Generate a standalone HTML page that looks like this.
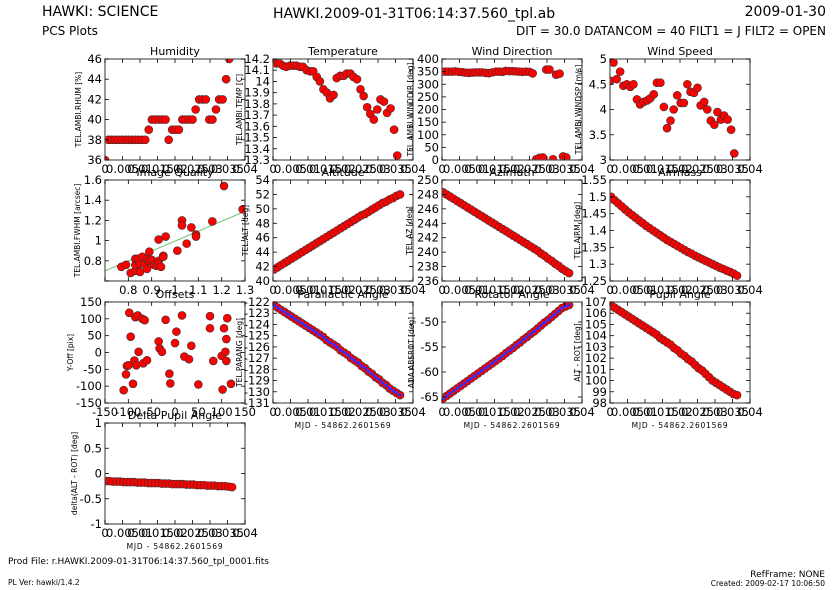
<!DOCTYPE html>
<html><head><meta charset="utf-8">
<style>
body{margin:0;background:#fff;}
svg{display:block;font-family:"DejaVu Sans","Liberation Sans",sans-serif;}
</style></head>
<body>
<svg id="chart" width="835" height="590" viewBox="0 0 835 590" xmlns="http://www.w3.org/2000/svg">
<text x="42" y="16" font-size="14">HAWKI: SCIENCE</text>
<text x="42" y="35" font-size="12">PCS Plots</text>
<text x="273" y="18" font-size="14">HAWKI.2009-01-31T06:14:37.560_tpl.ab</text>
<text x="826" y="16" font-size="14" text-anchor="end">2009-01-30</text>
<text x="826" y="35" font-size="12" text-anchor="end">DIT = 30.0 DATANCOM = 40 FILT1 = J FILT2 = OPEN</text>
<text x="8" y="564" font-size="9">Prod File: r.HAWKI.2009-01-31T06:14:37.560_tpl_0001.fits</text>
<text x="8" y="585" font-size="7.5">PL Ver: hawki/1.4.2</text>
<text x="825" y="577" font-size="9" text-anchor="end">RefFrame: NONE</text>
<text x="825" y="586" font-size="7.5" text-anchor="end">Created: 2009-02-17 10:06:50</text>
<g id="panels"></g>
</svg>
<script>
const tS = [0.0000,0.0010,0.0019,0.0029,0.0038,0.0048,0.0058,0.0067,0.0077,0.0086,0.0096,0.0106,0.0115,0.0125,0.0134,0.0144,0.0154,0.0163,0.0173,0.0182,0.0192,0.0202,0.0211,0.0221,0.0230,0.0240,0.0250,0.0259,0.0269,0.0278,0.0288,0.0298,0.0307,0.0317,0.0326,0.0336,0.0346,0.0355];
const humidity = [36,38,38,38,38,38,38,38,38,38,38,38,38,39,40,40,40,40,40,38,39,39,39,40,40,40,40,41,42,42,42,40,40,41,42,42,44,46];
const temperature = [14.19,14.16,14.16,14.14,14.13,14.14,14.14,14.14,14.13,14.13,14.10,14.09,14.09,14.04,14.00,13.93,13.90,13.85,13.88,14.03,14.05,14.05,14.07,14.07,14.04,14.02,13.93,13.87,13.77,13.71,13.66,13.75,13.84,13.82,13.72,13.76,13.57,13.34];
const windDir = [350,350,350,350,351,349,348,346,345,346,347,347,347,345,344,347,350,350,349,353,352,352,351,350,349,350,349,343,3,8,10,358,358,3,338,342,14,10];
const windSpeed = [4.57,4.93,4.6,4.75,4.47,4.5,4.45,4.5,4.2,4.1,4.15,4.18,4.22,4.3,4.53,4.53,4.05,3.63,3.78,4.0,4.28,4.13,4.13,4.5,4.35,4.33,4.43,4.08,4.15,4.0,3.78,3.7,3.95,3.8,3.88,3.8,3.6,3.13];
const tD = [0.0003,0.0013,0.0023,0.0033,0.0043,0.0053,0.0063,0.0073,0.0083,0.0093,0.0103,0.0113,0.0123,0.0133,0.0143,0.0153,0.0163,0.0173,0.0183,0.0193,0.0203,0.0213,0.0223,0.0233,0.0243,0.0253,0.0263,0.0273,0.0283,0.0293,0.0303,0.0313,0.0323,0.0333,0.0343,0.0353,0.0363];
const altitude = [41.6,41.9,42.2,42.5,42.8,43.1,43.4,43.7,44.0,44.3,44.6,44.9,45.2,45.5,45.8,46.1,46.4,46.7,47.0,47.3,47.6,47.9,48.2,48.5,48.8,49.1,49.3,49.6,49.9,50.2,50.5,50.8,51.0,51.3,51.5,51.8,52.0];
const azimuth = [248.3,248.0,247.7,247.4,247.1,246.8,246.5,246.2,245.9,245.6,245.3,245.0,244.7,244.4,244.1,243.8,243.5,243.2,242.9,242.6,242.3,242.0,241.7,241.4,241.1,240.8,240.5,240.2,239.8,239.5,239.1,238.8,238.4,238.1,237.7,237.4,237.1];
const airmass = [1.500,1.490,1.481,1.472,1.463,1.454,1.446,1.438,1.430,1.422,1.414,1.407,1.400,1.393,1.386,1.379,1.372,1.366,1.360,1.354,1.348,1.342,1.336,1.331,1.325,1.320,1.315,1.310,1.305,1.300,1.295,1.290,1.286,1.281,1.277,1.272,1.266];
const parang = [-122.3,-122.5,-122.7,-122.9,-123.1,-123.3,-123.5,-123.7,-123.9,-124.1,-124.3,-124.5,-124.7,-124.9,-125.1,-125.4,-125.6,-125.8,-126.0,-126.3,-126.5,-126.7,-127.0,-127.2,-127.4,-127.7,-127.9,-128.2,-128.4,-128.7,-128.9,-129.2,-129.4,-129.7,-129.9,-130.1,-130.3];
const rotator = [-65.3,-64.8,-64.3,-63.8,-63.3,-62.8,-62.3,-61.8,-61.3,-60.8,-60.3,-59.8,-59.3,-58.8,-58.3,-57.8,-57.3,-56.8,-56.2,-55.7,-55.2,-54.6,-54.1,-53.5,-53.0,-52.4,-51.9,-51.3,-50.7,-50.1,-49.6,-49.0,-48.4,-47.8,-47.2,-46.9,-46.6];
const pupil = [106.7,106.5,106.3,106.1,105.9,105.7,105.5,105.3,105.1,104.9,104.7,104.5,104.3,104.1,103.8,103.6,103.4,103.2,102.9,102.7,102.4,102.2,101.9,101.7,101.4,101.1,100.9,100.6,100.3,100.0,99.8,99.6,99.4,99.2,99.0,98.8,98.7];
const deltaPupil = [-0.15,-0.15,-0.16,-0.16,-0.16,-0.17,-0.17,-0.17,-0.17,-0.18,-0.18,-0.18,-0.19,-0.19,-0.19,-0.19,-0.20,-0.20,-0.20,-0.21,-0.21,-0.21,-0.21,-0.22,-0.22,-0.22,-0.23,-0.23,-0.23,-0.24,-0.24,-0.24,-0.25,-0.25,-0.25,-0.26,-0.27];
const iqX = [0.77,0.79,0.81,0.83,0.83,0.83,0.84,0.85,0.85,0.86,0.87,0.88,0.88,0.89,0.89,0.90,0.91,0.92,0.93,0.93,0.93,0.94,0.95,0.95,0.96,1.01,1.03,1.03,1.05,1.07,1.09,1.09,1.16,1.21,1.29];
const iqY = [0.74,0.76,0.68,0.70,0.76,0.82,0.82,0.69,0.77,0.84,0.77,0.72,0.82,0.89,0.80,0.81,0.76,0.75,0.80,0.77,1.01,0.74,0.85,0.84,1.04,0.90,1.20,1.15,0.97,1.13,1.06,1.04,1.19,1.54,1.31];
const iqFitX = [0.7,1.3];
const iqFitY = [0.70,1.29];
const offX = [-110,-105,-103,-100,-98,-95,-90,-87,-85,-83,-80,-78,-70,-68,-65,-60,-35,-33,-28,-20,-12,-10,0,3,15,20,30,35,50,75,75,82,100,102,105,108,110,110,112,120];
const offY = [-112,-65,-40,-38,118,47,-93,-24,105,-38,110,2,100,-32,96,-23,33,12,2,97,-63,-92,28,62,110,-12,-20,20,-95,108,72,-25,-10,-110,72,2,40,-25,102,-93];
const timeTicks = [0,0.005,0.01,0.015,0.02,0.025,0.03,0.035,0.04];
const timeTickLabels = ["0","0.005","0.01","0.015","0.02","0.025","0.03","0.035","0.04"];

const NS = "http://www.w3.org/2000/svg";
const root = document.getElementById('panels');
const colX = [105,273,442,610], rowY = [59,180,302,423], W = 140, H = 101;
function mk(tag, attrs, parent){const e=document.createElementNS(NS,tag);for(const k in attrs)e.setAttribute(k,attrs[k]);(parent||root).appendChild(e);return e;}
function rng(a,b,s){const r=[];for(let v=a;v<=b+1e-9;v+=s)r.push(+v.toFixed(6));return r;}
function fmt(v){return String(+v.toFixed(4));}

function panel(o){
  const x0=colX[o.col], y0=rowY[o.row];
  const g=mk('g',{});
  
  
  const sx=v=>x0+(v-o.xr[0])/(o.xr[1]-o.xr[0])*W;
  const sy=v=>y0+H-(v-o.yr[0])/(o.yr[1]-o.yr[0])*H;
  const cid='clip-'+o.name;
  const cp=mk('clipPath',{id:cid},g);mk('rect',{x:x0,y:y0,width:W,height:H},cp);
  const marks=mk('g',{'clip-path':'url(#'+cid+')'},g);
  if(o.fit){const l=mk('line',{x1:sx(o.fit[0][0]),y1:sy(o.fit[1][0]),x2:sx(o.fit[0][1]),y2:sy(o.fit[1][1]),stroke:'#6cbf6c','stroke-width':1},marks);
    
    }
  for(let i=0;i<o.xs.length;i++){
    const c=mk('circle',{cx:sx(o.xs[i]),cy:sy(o.ys[i]),r:4,fill:'#f00',stroke:'#333','stroke-width':0.6},marks);
    
    
  }
  if(o.blue){
    let d='';for(let i=0;i<o.xs.length;i++)d+=(i?'L':'M')+sx(o.xs[i])+' '+sy(o.ys[i]);
    const p=mk('path',{d:d,fill:'none',stroke:'#3030ff','stroke-width':1.5},marks);
    
    
    for(let i=0;i<o.xs.length;i++){
      const q=mk('rect',{x:sx(o.xs[i])-1.5,y:sy(o.ys[i])-1.5,width:3,height:3,fill:'#3030ff'},marks);
      
      
    }
  }
  const fr=mk('rect',{x:x0,y:y0,width:W,height:H,fill:'none',stroke:'#555','stroke-width':1.2},g);
  
  
  o.xt.forEach((v,i)=>{
    const X=sx(v);
    mk('line',{x1:X,y1:y0+H,x2:X,y2:y0+H-4,stroke:'#000','stroke-width':0.8},g);
    mk('line',{x1:X,y1:y0,x2:X,y2:y0+4,stroke:'#000','stroke-width':0.8},g);
    const lab=o.xl?o.xl[i]:fmt(v);
    if(lab!==''){const t=mk('text',{x:X,y:y0+H+13,'font-size':11.5,'text-anchor':'middle'},g);t.textContent=lab;
      
      }
  });
  o.yt.forEach((v,i)=>{
    const Y=sy(v);
    mk('line',{x1:x0,y1:Y,x2:x0+4,y2:Y,stroke:'#000','stroke-width':0.8},g);
    mk('line',{x1:x0+W,y1:Y,x2:x0+W-4,y2:Y,stroke:'#000','stroke-width':0.8},g);
    const lab=o.yl?o.yl[i]:fmt(v);
    if(lab!==''){const t=mk('text',{x:x0-3,y:Y+4,'font-size':11.5,'text-anchor':'end'},g);t.textContent=lab;
      
      }
  });
  const tt=mk('text',{x:x0+W/2,y:y0-4,'font-size':11,'text-anchor':'middle'},g);tt.textContent=o.title;
  
  
  const yy=y0+H/2, yx=x0-o.ylx;
  const yl=mk('text',{x:yx,y:yy,'font-size':7.5,'text-anchor':'middle',transform:'rotate(-90 '+yx+' '+yy+')'},g);yl.textContent=o.ylabel;
  
  
  if(o.xlabel){const xl=mk('text',{x:x0+W/2,y:y0+H+25,'font-size':7.5,'letter-spacing':0.8,'text-anchor':'middle'},g);xl.textContent=o.xlabel;
    
    }
}
const T={xr:[0,0.04],xt:timeTicks,xl:timeTickLabels};
const MJD="MJD - 54862.2601569";
panel(Object.assign({name:'humidity',col:0,row:0,title:'Humidity',ylabel:'TEL.AMBI.RHUM [%]',ylx:24,xs:tS,ys:humidity,yr:[36,46],yt:rng(36,46,2)},T));
panel(Object.assign({name:'temperature',col:1,row:0,title:'Temperature',ylabel:'TEL.AMBI.TEMP [C]',ylx:31,xs:tS,ys:temperature,yr:[13.3,14.2],yt:rng(13.3,14.2,0.1)},T));
panel(Object.assign({name:'wind-direction',col:2,row:0,title:'Wind Direction',ylabel:'TEL.AMBI.WINDDIR [deg]',ylx:29,xs:tS,ys:windDir,yr:[0,400],yt:rng(0,400,50)},T));
panel(Object.assign({name:'wind-speed',col:3,row:0,title:'Wind Speed',ylabel:'TEL.AMBI.WINDSP [m/s]',ylx:29,xs:tS,ys:windSpeed,yr:[3,5],yt:rng(3,5,0.5)},T));
panel({name:'image-quality',col:0,row:1,title:'Image Quality',ylabel:'TEL.AMBI.FWHM [arcsec]',ylx:25,xs:iqX,ys:iqY,xr:[0.7,1.3],xt:rng(0.7,1.3,0.1),xl:['','0.8','0.9','1','1.1','1.2','1.3'],yr:[0.6,1.6],yt:rng(0.6,1.6,0.2),yl:['','0.8','1','1.2','1.4','1.6'],fit:[iqFitX,iqFitY]});
panel(Object.assign({name:'altitude',col:1,row:1,title:'Altitude',ylabel:'TEL.ALT [deg]',ylx:25,xs:tD,ys:altitude,yr:[40,54],yt:rng(40,54,2)},T));
panel(Object.assign({name:'azimuth',col:2,row:1,title:'Azimuth',ylabel:'TEL.AZ [deg]',ylx:30,xs:tD,ys:azimuth,yr:[236,250],yt:rng(236,250,2)},T));
panel(Object.assign({name:'airmass',col:3,row:1,title:'Airmass',ylabel:'TEL.AIRM [deg]',ylx:30,xs:tD,ys:airmass,yr:[1.25,1.55],yt:rng(1.25,1.55,0.05)},T));
panel({name:'offsets',col:0,row:2,title:'Offsets',ylabel:'Y-Off [pix]',ylx:32,xs:offX,ys:offY,xr:[-150,150],xt:rng(-150,150,50),yr:[-150,150],yt:rng(-150,150,50)});
panel(Object.assign({name:'parallactic-angle',col:1,row:2,title:'Parallactic Angle',ylabel:'TEL.PARANG [deg]',ylx:31,xs:tD,ys:parang,yr:[-131,-122],yt:rng(-131,-122,1),blue:true,xlabel:MJD},T));
panel(Object.assign({name:'rotator-angle',col:2,row:2,title:'Rotator Angle',ylabel:'ADA.ABSROT [deg]',ylx:28,xs:tD,ys:rotator,yr:[-66.2,-46],yt:[-65,-60,-55,-50],blue:true,xlabel:MJD},T));
panel(Object.assign({name:'pupil-angle',col:3,row:2,title:'Pupil Angle',ylabel:'ALT - ROT [deg]',ylx:30,xs:tD,ys:pupil,yr:[98,107],yt:rng(98,107,1),xlabel:MJD},T));
panel(Object.assign({name:'delta-pupil-angle',col:0,row:3,title:'Delta Pupil Angle',ylabel:'delta(ALT - ROT) [deg]',ylx:28,xs:tD,ys:deltaPupil,yr:[-1,1],yt:rng(-1,1,0.5),xlabel:MJD},T));
</script>
</body></html>
